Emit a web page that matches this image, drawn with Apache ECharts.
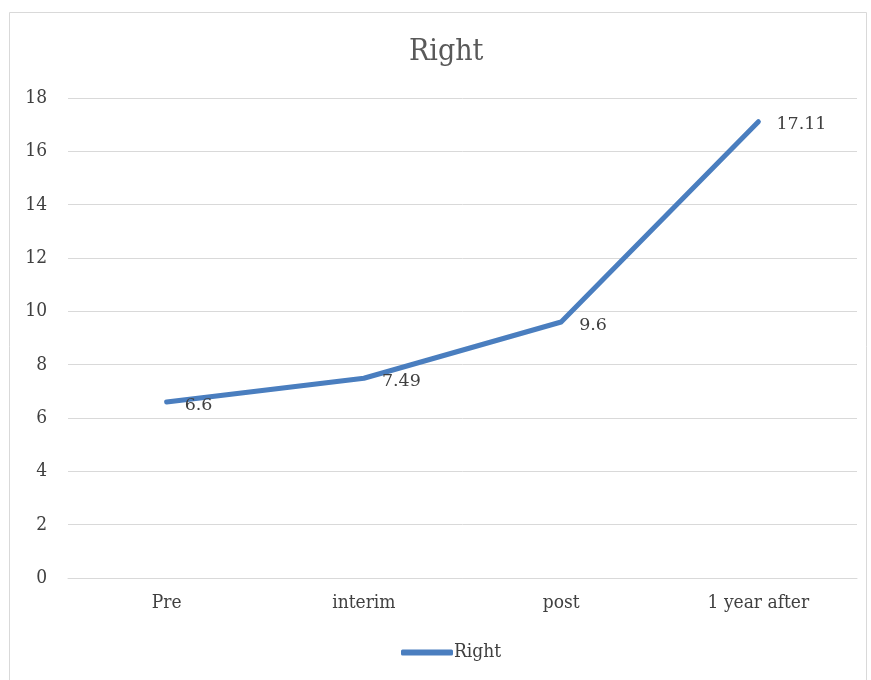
<!DOCTYPE html>
<html>
<head>
<meta charset="utf-8">
<script src="https://cdn.jsdelivr.net/npm/echarts@6/dist/echarts.min.js"></script>
<style>
  html, body { margin: 0; padding: 0; background: #fff; }
  #chart { width: 871px; height: 680px; }
</style>
</head>
<body>
<div id="chart"></div>
<script>
// Measurements at each stage
const categories = ['Pre', 'interim', 'post', '1 year after'];
const rightValues = [6.6, 7.49, 9.6, 17.11];
const seriesName = 'Right';

const condensedSerif = '"DejaVu Serif Condensed", "Liberation Serif", serif';
const labelSerif = '"DejaVu Serif", "Liberation Serif", serif';

const chart = echarts.init(document.getElementById('chart'));
chart.setOption({
  backgroundColor: '#fff',
  animation: false,
  graphic: [{
    type: 'rect',
    shape: { x: 9.5, y: 12.5, width: 857, height: 680 },
    style: { fill: 'none', stroke: '#d9d9d9', lineWidth: 1 },
    silent: true
  }],
  title: {
    text: 'Right',
    left: 404,
    top: 32,
    textStyle: { fontFamily: condensedSerif, fontSize: 30, fontWeight: 'normal', color: '#595959' }
  },
  grid: { left: 68, right: 14, top: 98, bottom: 102 },
  legend: {
    bottom: 13,
    left: 396,
    itemWidth: 52,
    itemHeight: 6,
    itemGap: 2,
    icon: 'roundRect',
    data: [seriesName],
    textStyle: { fontFamily: condensedSerif, fontSize: 19, color: '#404040', padding: [0, 0, 0, -4] }
  },
  xAxis: {
    type: 'category',
    data: categories,
    boundaryGap: true,
    axisLine: { show: true, lineStyle: { color: '#d9d9d9' } },
    axisTick: { show: false },
    axisLabel: { fontFamily: condensedSerif, fontSize: 19, color: '#404040', margin: 16 }
  },
  yAxis: {
    type: 'value',
    min: 0,
    max: 18,
    interval: 2,
    axisLine: { show: false },
    axisTick: { show: false },
    splitLine: { lineStyle: { color: '#d9d9d9', width: 1 } },
    axisLabel: { fontFamily: condensedSerif, fontSize: 19, color: '#404040', margin: 21 }
  },
  series: [{
    name: seriesName,
    type: 'line',
    data: rightValues,
    symbol: 'circle',
    symbolSize: 0,
    showSymbol: true,
    lineStyle: { color: '#4a7ebf', width: 5, cap: 'round', join: 'round' },
    itemStyle: { color: '#4a7ebf' },
    label: {
      show: true,
      position: 'right',
      distance: 18,
      offset: [0, 3],
      fontFamily: labelSerif,
      fontSize: 17.5,
      color: '#404040'
    }
  }]
});
</script>
</body>
</html>
